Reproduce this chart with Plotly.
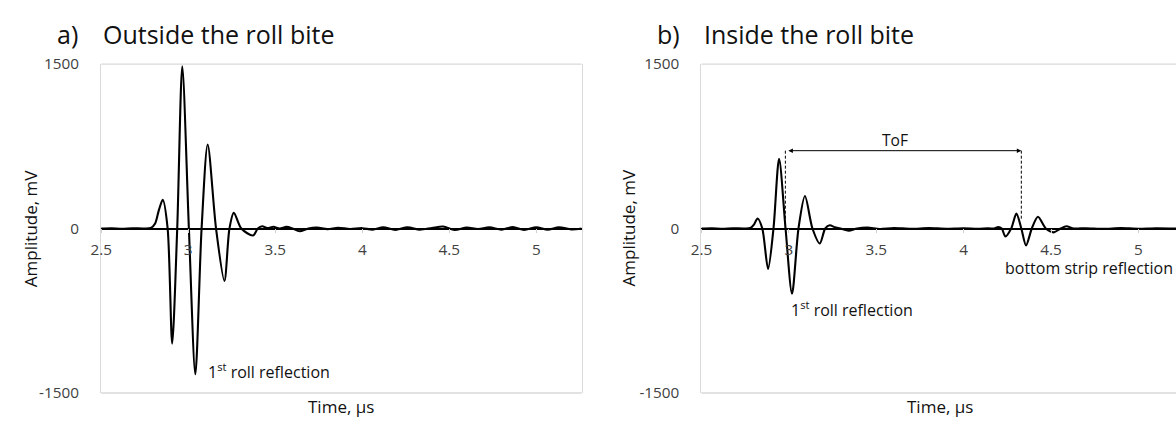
import plotly.graph_objects as go

# Panel a: echo recorded outside the roll bite (time in us, amplitude in mV)
t_out = [2.50, 2.56, 2.62, 2.68, 2.74, 2.785, 2.810, 2.832, 2.854, 2.882, 2.908,
         2.937, 2.966, 3.004, 3.041, 3.077, 3.112, 3.160, 3.208, 3.237, 3.262,
         3.305, 3.373, 3.400, 3.425, 3.455, 3.490, 3.525, 3.565, 3.600, 3.640,
         3.690, 3.740, 3.800, 3.860, 3.930, 4.000, 4.060, 4.120, 4.190, 4.260,
         4.330, 4.400, 4.465, 4.530, 4.600, 4.665, 4.730, 4.800, 4.865, 4.930,
         5.000, 5.065, 5.130, 5.200, 5.260]
v_out = [0, 2, -2, 3, 0, 4, 45, 170, 261, 0, -1050,
         0, 1480, 0, -1330, 0, 767, 0, -478, 0, 144,
         0, -64, 0, 20, 4, 16, 0, 15, 0, -25,
         0, 8, -6, 6, -4, 3, -10, 10, -12, 12,
         -10, 5, 18, -12, 8, -5, 10, -10, 14, -12,
         12, -10, 12, -8, 0]

# Panel b: echo recorded inside the roll bite
t_in = [2.50, 2.56, 2.62, 2.68, 2.74, 2.780, 2.800, 2.821, 2.848, 2.881, 2.912,
        2.944, 2.981, 3.018, 3.055, 3.092, 3.135, 3.177, 3.208, 3.234, 3.262,
        3.295, 3.342, 3.390, 3.450, 3.520, 3.600, 3.700, 3.800, 3.900, 4.000,
        4.080, 4.140, 4.175, 4.198, 4.218, 4.239, 4.272, 4.302, 4.330, 4.357,
        4.390, 4.425, 4.470, 4.516, 4.555, 4.588, 4.630, 4.700, 4.800, 4.900,
        5.000, 5.100, 5.215]
v_in = [0, 2, -2, 3, 0, 4, 35, 92, 0, -368, 0,
        637, 0, -595, 0, 296, 0, -137, 0, 29, 12,
        0, -20, 0, 8, -4, 5, -3, 4, -2, 3,
        -3, 2, 0, 14, 0, -73, 0, 136, 0, -154,
        0, 107, 0, -35, 0, 20, 0, 3, -3, 4,
        -2, 3, 0]

# Time-of-flight marker between the two reflections
tof_start = 2.980
tof_end = 4.330
tof_level = 710

x_ticks = [2.5, 3, 3.5, 4, 4.5, 5]
y_ticks = [-1500, 0, 1500]

FONT = "Open Sans"
W, H = 1176, 427
TICK_COLOR = "#404040"
TEXT_COLOR = "#111111"

fig = go.Figure()
wave_line = dict(color="black", width=2.1, shape="spline", smoothing=0.8)
fig.add_trace(go.Scatter(x=t_out, y=v_out, mode="lines", line=wave_line,
                         xaxis="x", yaxis="y", showlegend=False, hoverinfo="skip"))
fig.add_trace(go.Scatter(x=t_in, y=v_in, mode="lines", line=wave_line,
                         xaxis="x2", yaxis="y2", showlegend=False, hoverinfo="skip"))

ydom = [1 - 400.7 / H, 1 - 55.7 / H]
zero_pos = 1 - 228.3 / H

common_x = dict(tickvals=x_ticks, ticktext=[str(v) for v in x_ticks], showgrid=False, zeroline=False,
                showline=True, linecolor="black", linewidth=1.7, ticks="outside", ticklen=4,
                tickcolor="#d0d0d0", ticklabelstandoff=3,
                tickfont=dict(family=FONT, size=15.3, color=TICK_COLOR),
                anchor="free", position=zero_pos, fixedrange=True)
common_y = dict(range=[-1500, 1500], tickvals=y_ticks, ticktext=[str(v) for v in y_ticks],
                showgrid=False, zeroline=False, domain=ydom,
                showline=True, linecolor="#d9d9d9", linewidth=1.2, ticks="", ticklabelstandoff=18,
                tickfont=dict(family=FONT, size=15.3, color=TICK_COLOR), fixedrange=True)

fig.update_layout(
    width=W, height=H, margin=dict(l=0, r=0, t=0, b=0),
    paper_bgcolor="white", plot_bgcolor="white",
    xaxis=dict(common_x, domain=[91 / W, 576 / W], range=[2.5, 5.26]),
    yaxis=dict(common_y, anchor="x", mirror=True),
    xaxis2=dict(common_x, domain=[697 / W, 1.0], range=[2.5, 5.215]),
    yaxis2=dict(common_y, anchor="x2", mirror=False),
)

# plot-area frames (top and bottom edges)
for ax in ["x", "x2"]:
    yref = "y domain" if ax == "x" else "y2 domain"
    for yy in (0, 1):
        fig.add_shape(type="line", xref=f"{ax} domain", yref=yref, x0=0, x1=1, y0=yy, y1=yy,
                      line=dict(color="#d9d9d9", width=1.4))

# ToF dashed guides and double arrow
guide = dict(color="black", width=1, dash="3px,2px")
fig.add_shape(type="line", xref="x2", yref="y2", x0=tof_start, x1=tof_start, y0=tof_level, y1=0, line=guide)
fig.add_shape(type="line", xref="x2", yref="y2", x0=tof_end, x1=tof_end, y0=tof_level, y1=72, line=guide)
fig.add_annotation(xref="x2", yref="y2", x=tof_end, y=tof_level, ax=tof_start, ay=tof_level,
                   axref="x2", ayref="y2", showarrow=True, arrowhead=2, arrowside="end+start",
                   arrowsize=0.9, arrowwidth=1, arrowcolor="black", text=" ")

ann = [
    dict(x=44 / W, y=1 - 24 / H, text="a)", xanchor="left", size=25),
    dict(x=91 / W, y=1 - 24 / H, text="Outside the roll bite", xanchor="left", size=25),
    dict(x=650 / W, y=1 - 24 / H, text="b)", xanchor="left", size=25),
    dict(x=698 / W, y=1 - 24 / H, text="Inside the roll bite", xanchor="left", size=25),
    dict(x=333 / W, y=1 - 415 / H, text="Time, µs", xanchor="center", size=17),
    dict(x=938 / W, y=1 - 415 / H, text="Time, µs", xanchor="center", size=17),
]
for a in ann:
    fig.add_annotation(xref="paper", yref="paper", x=a["x"], y=a["y"], text=a["text"], showarrow=False,
                       xanchor=a["xanchor"], yanchor="middle", font=dict(family=FONT, size=a["size"], color=TEXT_COLOR))

for xp in (20, 623):
    fig.add_annotation(xref="paper", yref="paper", x=xp / W, y=1 - 228 / H, text="Amplitude, mV",
                       textangle=-90, showarrow=False, xanchor="center", yanchor="middle",
                       font=dict(family=FONT, size=17, color=TEXT_COLOR))

label_font = dict(family=FONT, size=16, color=TEXT_COLOR)
fig.add_annotation(xref="x", yref="y", x=3.10, y=-1302, text="1<sup>st</sup> roll reflection",
                   showarrow=False, xanchor="left", yanchor="middle", font=label_font)
fig.add_annotation(xref="x2", yref="y2", x=2.998, y=-737, text="1<sup>st</sup> roll reflection",
                   showarrow=False, xanchor="left", yanchor="middle", font=label_font)
fig.add_annotation(xref="x2", yref="y2", x=4.225, y=-362, text="bottom strip reflection",
                   showarrow=False, xanchor="left", yanchor="middle", font=label_font)
fig.add_annotation(xref="x2", yref="y2", x=3.61, y=811, text="ToF",
                   showarrow=False, xanchor="center", yanchor="middle", font=dict(label_font, size=15.6))

fig.write_html("out.html")
